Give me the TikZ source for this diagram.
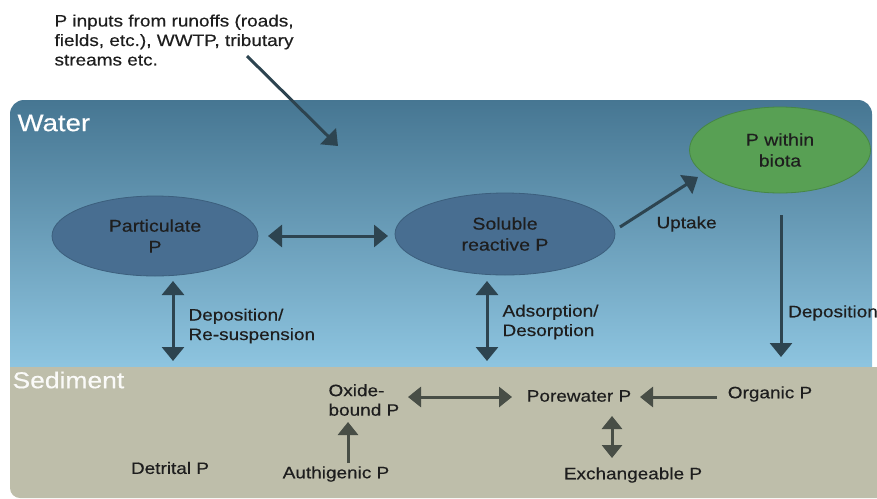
\documentclass[tikz,border=0pt]{standalone}
\usepackage{fontspec}
\setmainfont[FakeStretch=1.15,FakeBold=0.4]{Liberation Sans}
\usetikzlibrary{shapes.geometric,arrows.meta}
\definecolor{wtop}{RGB}{70,118,146}
\definecolor{wbot}{RGB}{142,197,224}
\definecolor{sedc}{RGB}{190,190,170}
\definecolor{ellc}{RGB}{72,110,145}
\definecolor{ellb}{RGB}{60,95,125}
\definecolor{grn}{RGB}{88,160,84}
\definecolor{grnb}{RGB}{70,135,68}
\definecolor{warr}{RGB}{45,68,80}
\definecolor{sarr}{RGB}{72,78,70}
\definecolor{txt}{RGB}{30,30,30}
\tikzset{
  every node/.style={font=\fontsize{16.5}{19.5}\selectfont, text=txt},
  ell/.style={ellipse, fill=ellc, draw=ellb, line width=0.8pt, minimum width=#1, align=center, font=\fontsize{17}{21}\selectfont, inner sep=0pt},
  lbl/.style={align=left, anchor=west},
  warrow/.style={draw=warr, line width=3pt, -{Triangle[width=22pt,length=14pt]}},
  wdarrow/.style={draw=warr, line width=3pt, {Triangle[width=22pt,length=14pt]}-{Triangle[width=22pt,length=14pt]}},
  sarrow/.style={draw=sarr, line width=3pt, -{Triangle[width=20pt,length=13pt]}},
  sdarrow/.style={draw=sarr, line width=3pt, {Triangle[width=20pt,length=13pt]}-{Triangle[width=20pt,length=13pt]}},
}
\begin{document}
\begin{tikzpicture}[x=1pt, y=-1pt]
\useasboundingbox (0,0) rectangle (877,498);
% water
\path[top color=wtop, bottom color=wbot]
  (10,368) [rounded corners=14pt] -- (10,100) -- (872,100) [sharp corners] -- (872,368) -- cycle;
% sediment
\path[fill=sedc] (10,367) -- (877,367) -- (877,498) [rounded corners=10pt] -- (10,498) [sharp corners] -- cycle;
\node[anchor=west, text=white, font=\fontsize{24}{28}\selectfont] (water) at (14,123) {Water};
\node[anchor=west, text=white!92!sedc, font=\fontsize{23}{27}\selectfont] (sediment) at (9,380) {Sediment};

% input text
\node[lbl, anchor=north west] (input) at (51,11) {P inputs from runoffs (roads,\\fields, etc.), WWTP, tributary\\streams etc.};
\coordinate (inS) at (247,56);
\coordinate (inE) at (338,146);
\draw[warrow] (inS) -- (inE);

% ellipses
\node[ell=206pt, minimum height=80pt] (part) at (155,236) {Particulate\\P};
\node[ell=220pt, minimum height=82pt] (sol) at (505,234) {Soluble\\reactive P};
\node[ellipse, fill=grn, draw=grnb, line width=0.8pt, minimum width=181pt, minimum height=86pt, align=center, font=\fontsize{17}{21}\selectfont, inner sep=0pt] (biota) at (780,150) {P within\\biota};

\coordinate (hL) at (268,236);
\coordinate (hR) at (388,236);
\draw[wdarrow] (hL) -- (hR);

\coordinate (upS) at (620,227);
\coordinate (upE) at (698,177);
\draw[warrow] (upS) -- (upE);
\node[lbl] (uptake) at (653,224) {Uptake};

\coordinate (dS) at (781,215);
\coordinate (dE) at (781,357);
\draw[warrow] (dS) -- (dE);
\node[lbl, inner sep=0pt] (depo) at (788,313) {Deposition};

\coordinate (rsT) at (173,281);
\coordinate (rsB) at (173,361);
\draw[wdarrow] (rsT) -- (rsB);
\node[lbl] (resus) at (185,326) {Deposition/\\Re-suspension};

\coordinate (adT) at (487,281);
\coordinate (adB) at (487,361);
\draw[wdarrow] (adT) -- (adB);
\node[lbl] (adso) at (499,322) {Adsorption/\\Desorption};

% sediment
\node[lbl] (oxide) at (325,400) {Oxide-\\bound P};
\node (pore) at (579,396) {Porewater P};
\node (org) at (770,394) {Organic P};
\node (exch) at (633,475) {Exchangeable P};
\node (auth) at (336,474) {Authigenic P};
\node (detr) at (170,468) {Detrital P};

\coordinate (oxR) at (408,397);
\coordinate (poL) at (512,397);
\coordinate (poR) at (640,397);
\coordinate (orL) at (717,397);
\coordinate (poB) at (612,416);
\coordinate (exT) at (612,458);
\coordinate (auT) at (348,463);
\coordinate (oxB) at (348,422);
\draw[sdarrow] (oxR) -- (poL);
\draw[sarrow] (orL) -- (poR);
\draw[sdarrow] (poB) -- (exT);
\draw[sarrow] (auT) -- (oxB);
\end{tikzpicture}
\end{document}
